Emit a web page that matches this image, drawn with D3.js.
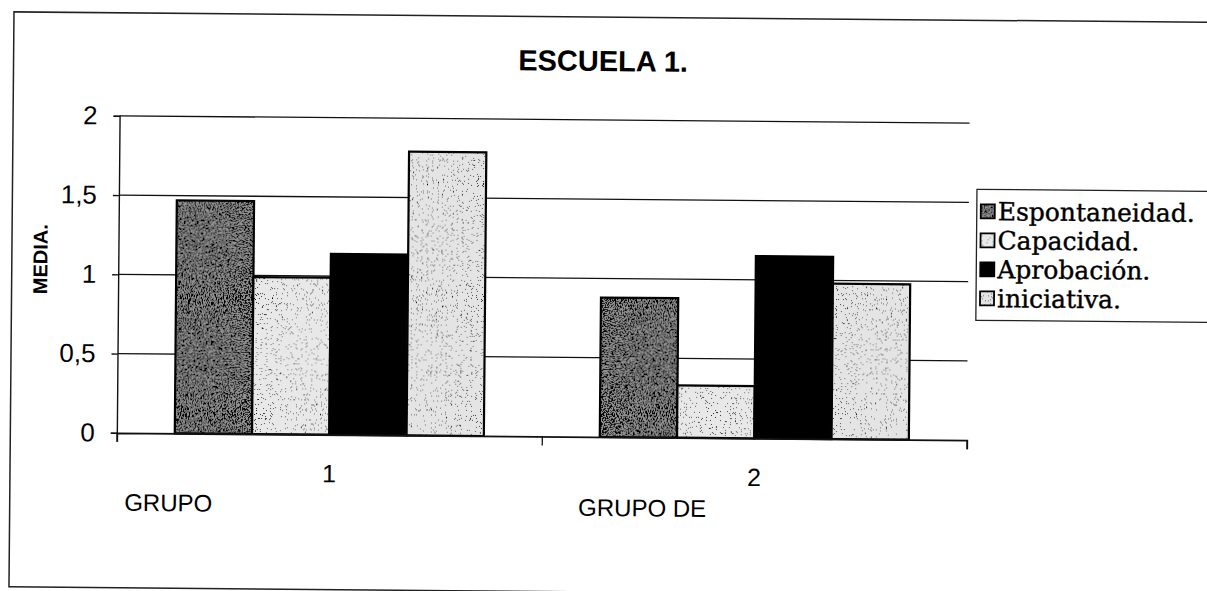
<!DOCTYPE html>
<html>
<head>
<meta charset="utf-8">
<script src="https://cdn.jsdelivr.net/npm/d3@7"></script>
<style>
  body { margin: 0; background: #fff; }
  svg { display: block; }
</style>
</head>
<body>
<svg id="chart"></svg>
<script>
// data
var categories = ["1", "2"];
var seriesNames = ["Espontaneidad.", "Capacidad.", "Aprobación.", "iniciativa."];
var espontaneidad = [1.47, 0.88];
var capacidad = [0.99, 0.33];
var aprobacion = [1.14, 1.15];
var iniciativa = [1.79, 0.98];
var yTicks = [0, 0.5, 1, 1.5, 2];

var width = 1207, height = 591;
var plot = { left: 118, right: 968, top: 120, bottom: 437 };

var svg = d3.select("#chart").attr("width", width).attr("height", height);

// stipple textures, a bit like the printed patterns
var defs = svg.append("defs");
function stipple(id, freq, table, seed) {
  var f = defs.append("filter").attr("id", id)
    .attr("x", 0).attr("y", 0).attr("width", 1).attr("height", 1);
  f.append("feTurbulence").attr("type", "fractalNoise")
    .attr("baseFrequency", freq).attr("numOctaves", 1).attr("seed", seed).attr("result", "noise");
  f.append("feColorMatrix").attr("in", "noise").attr("type", "matrix")
    .attr("values", "0 0 0 0 0  0 0 0 0 0  0 0 0 0 0  1 0 0 0 0").attr("result", "a");
  f.append("feComponentTransfer").attr("in", "a").attr("result", "dots")
    .append("feFuncA").attr("type", "discrete").attr("tableValues", table);
  f.append("feComposite").attr("in", "dots").attr("in2", "SourceGraphic").attr("operator", "in").attr("result", "dd");
  var m = f.append("feMerge");
  m.append("feMergeNode").attr("in", "SourceGraphic");
  m.append("feMergeNode").attr("in", "dd");
}
stipple("st-esp", 0.85, "1 1 1 1 1 0 0 0 0 0", 2);
stipple("st-cap", 1.2, "1 1 1 1 0 0 0 0 0 0 0 0", 5);
stipple("st-ini", 1.2, "1 1 1 1 0 0 0 0 0 0 0 0", 9);

var fills = ["#909090", "#e8e8e8", "#000000", "#e4e4e4"];
var filters = ["url(#st-esp)", "url(#st-cap)", null, "url(#st-ini)"];

// the scan is turned a little clockwise
var root = svg.append("g").attr("transform", "rotate(0.5,600,300)");

// outer frame
root.append("rect")
  .attr("x", 11.5).attr("y", 17)
  .attr("width", 1260).attr("height", 575)
  .attr("fill", "none").attr("stroke", "#222").attr("stroke-width", 1.5);

// title
root.append("text")
  .attr("x", 601).attr("y", 71)
  .attr("text-anchor", "middle")
  .style("font-family", "Liberation Sans, Arial, sans-serif")
  .style("font-weight", "bold")
  .style("font-size", "29px")
  .text("ESCUELA 1.");

var x0 = d3.scaleBand().domain(categories).range([plot.left, plot.right]);
var x1 = d3.scaleBand().domain(seriesNames).range([0, x0.bandwidth()])
  .paddingInner(0).paddingOuter(0.75);
var y = d3.scaleLinear().domain([0, 2]).range([plot.bottom, plot.top]);

// gridlines
root.append("g").selectAll("line")
  .data(yTicks.filter(function (d) { return d > 0; }))
  .enter().append("line")
  .attr("x1", plot.left).attr("x2", plot.right)
  .attr("y1", function (d) { return y(d); })
  .attr("y2", function (d) { return y(d); })
  .attr("stroke", "#111").attr("stroke-width", 1.3);

// bars
var seriesValues = [espontaneidad, capacidad, aprobacion, iniciativa];
var barData = [];
categories.forEach(function (c, ci) {
  seriesNames.forEach(function (s, si) {
    barData.push({ cat: c, s: s, si: si, v: seriesValues[si][ci] });
  });
});
var bars = root.append("g").selectAll("g").data(barData).enter().append("g");
bars.append("rect")
  .attr("x", function (d) { return x0(d.cat) + x1(d.s); })
  .attr("y", function (d) { return y(d.v); })
  .attr("width", x1.bandwidth())
  .attr("height", function (d) { return y(0) - y(d.v); })
  .attr("fill", function (d) { return fills[d.si]; })
  .attr("filter", function (d) { return filters[d.si]; });
bars.append("rect")
  .attr("x", function (d) { return x0(d.cat) + x1(d.s); })
  .attr("y", function (d) { return y(d.v); })
  .attr("width", x1.bandwidth())
  .attr("height", function (d) { return y(0) - y(d.v); })
  .attr("fill", "none").attr("stroke", "#000").attr("stroke-width", 2.2);

// y axis
var yAxis = root.append("g")
  .attr("transform", "translate(" + plot.left + ",0)")
  .call(d3.axisLeft(y).tickValues(yTicks).tickSize(6).tickPadding(16)
    .tickFormat(function (d) { return String(d).replace(".", ","); }));
yAxis.select(".domain").attr("stroke", "#111").attr("stroke-width", 1.4);
yAxis.selectAll(".tick line").attr("stroke", "#111").attr("stroke-width", 1.3);
yAxis.selectAll("text")
  .style("font-family", "Liberation Sans, Arial, sans-serif")
  .style("font-size", "26px").attr("fill", "#000");

// x axis: tick marks on the category boundaries, labels in the middle
var xb = d3.scaleLinear().domain([0, 2]).range([plot.left, plot.right]);
var xAxis = root.append("g")
  .attr("transform", "translate(0," + plot.bottom + ")")
  .call(d3.axisBottom(xb).tickValues([0, 1, 2]).tickSize(9).tickFormat(""));
xAxis.select(".domain").attr("stroke", "#111").attr("stroke-width", 1.8);
xAxis.selectAll(".tick line").attr("stroke", "#111").attr("stroke-width", 1.3);

var xLab = root.append("g")
  .attr("transform", "translate(0," + plot.bottom + ")")
  .call(d3.axisBottom(x0).tickSize(0).tickPadding(30));
xLab.select(".domain").remove();
xLab.selectAll("text")
  .style("font-family", "Liberation Sans, Arial, sans-serif")
  .style("font-size", "25px").attr("fill", "#000");

// loose category captions
root.append("text").attr("x", 126).attr("y", 515)
  .style("font-family", "Liberation Sans, Arial, sans-serif").style("font-size", "24px")
  .text("GRUPO");
root.append("text").attr("x", 580).attr("y", 516)
  .style("font-family", "Liberation Sans, Arial, sans-serif").style("font-size", "24px")
  .text("GRUPO DE");

// y title
root.append("text")
  .attr("transform", "translate(47,264) rotate(-90)")
  .attr("text-anchor", "middle")
  .style("font-family", "Liberation Sans, Arial, sans-serif")
  .style("font-weight", "bold").style("font-size", "20px")
  .text("MEDIA.");

// legend
var lg = root.append("g").attr("transform", "translate(976,186)");
lg.append("rect").attr("x", 0).attr("y", 0).attr("width", 270).attr("height", 131)
  .attr("fill", "#fff").attr("stroke", "#222").attr("stroke-width", 1.3);
var items = lg.selectAll("g.item").data(seriesNames).enter().append("g")
  .attr("class", "item")
  .attr("transform", function (d, i) { return "translate(4," + (22 + i * 29) + ")"; });
items.append("rect").attr("x", 0).attr("y", -7).attr("width", 14).attr("height", 14)
  .attr("fill", function (d, i) { return fills[i]; })
  .attr("filter", function (d, i) { return filters[i]; });
items.append("rect").attr("x", 0).attr("y", -7).attr("width", 14).attr("height", 14)
  .attr("fill", "none").attr("stroke", "#000").attr("stroke-width", 1.8);
items.append("text").attr("x", 17).attr("y", 0).attr("dy", "0.35em")
  .style("font-family", "DejaVu Serif, serif").style("font-size", "25px")
  .attr("stroke", "#000").attr("stroke-width", 0.4)
  .text(function (d) { return d; });
</script>
</body>
</html>
